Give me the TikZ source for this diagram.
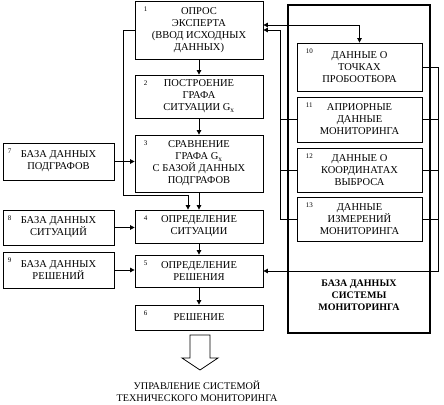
\documentclass[tikz,border=0pt]{standalone}
\usepackage{fontspec}
\setmainfont{Liberation Serif}
\usetikzlibrary{arrows.meta}

\begin{document}
\begin{tikzpicture}[x=1pt,y=-1pt,
        blk/.style={draw,line width=0.8pt,align=center,inner sep=0pt,
            font=\fontsize{10.5}{12}\selectfont},
        num/.style={anchor=north west,inner sep=0pt,xshift=9pt,yshift=-6pt,
            font=\fontsize{7}{7}\selectfont},
        ln/.style={line width=0.8pt},
        arr/.style={ln,-{Triangle[length=4.5pt,width=4.5pt]}},
        arrs/.style={ln,{Triangle[length=4.5pt,width=4.5pt]}-{Triangle[length=4.5pt,width=4.5pt]}}]

            \useasboundingbox (0,0) rectangle (444,404);

            % main column
            \node[blk,minimum width=128pt,minimum height=58pt,label={[num]north west:1}] (b1) at (199,30)
            {ОПРОС\\ЭКСПЕРТА\\(ВВОД ИСХОДНЫХ\\ДАННЫХ)};
            \node[blk,minimum width=128pt,minimum height=43pt,label={[num]north west:2}] (b2) at (199,96.5)
            {ПОСТРОЕНИЕ\\ГРАФА\\СИТУАЦИИ G\textsubscript{x}};
            \node[blk,minimum width=128pt,minimum height=57pt,label={[num]north west:3}] (b3) at (199,163.5)
            {СРАВНЕНИЕ\\ГРАФА G\textsubscript{x}\\С БАЗОЙ ДАННЫХ\\ПОДГРАФОВ};
            \node[blk,minimum width=128pt,minimum height=33pt,label={[num]north west:4}] (b4) at (199,226.5)
            {ОПРЕДЕЛЕНИЕ\\СИТУАЦИИ};
            \node[blk,minimum width=128pt,minimum height=32pt,label={[num]north west:5}] (b5) at (199,271)
            {ОПРЕДЕЛЕНИЕ\\РЕШЕНИЯ};
            \node[blk,minimum width=128pt,minimum height=25pt,label={[num]north west:6}] (b6) at (199,317.5)
            {РЕШЕНИЕ};

            % left databases
            \node[blk,minimum width=111pt,minimum height=37pt,label={[num,xshift=-4pt]north west:7}] (b7) at (58.5,161.5)
            {БАЗА ДАННЫХ\\ПОДГРАФОВ};
            \node[blk,minimum width=111pt,minimum height=35pt,label={[num,xshift=-4pt]north west:8}] (b8) at (58.5,227.5)
            {БАЗА ДАННЫХ\\СИТУАЦИЙ};
            \node[blk,minimum width=111pt,minimum height=36pt,label={[num,xshift=-4pt]north west:9}] (b9) at (58.5,270)
            {БАЗА ДАННЫХ\\РЕШЕНИЙ};

            % monitoring database
            \node[draw,line width=2.5pt,minimum width=142pt,minimum height=328pt] (bd) at (359,169) {};
            \node[align=center,font=\fontsize{10}{12}\selectfont\bfseries] (bdt) at (359,295)
            {БАЗА ДАННЫХ\\СИСТЕМЫ\\МОНИТОРИНГА};

            \node[blk,fill=white,minimum width=125pt,minimum height=48pt,label={[num]north west:10}] (b10) at (359.5,67)
            {ДАННЫЕ О\\ТОЧКАХ\\ПРОБООТБОРА};
            \node[blk,fill=white,minimum width=125pt,minimum height=45pt,label={[num]north west:11}] (b11) at (359.5,119.5)
            {АПРИОРНЫЕ\\ДАННЫЕ\\МОНИТОРИНГА};
            \node[blk,fill=white,minimum width=125pt,minimum height=44pt,label={[num]north west:12}] (b12) at (359.5,170)
            {ДАННЫЕ О\\КООРДИНАТАХ\\ВЫБРОСА};
            \node[blk,fill=white,minimum width=125pt,minimum height=44pt,label={[num]north west:13}] (b13) at (359.5,219)
            {ДАННЫЕ\\ИЗМЕРЕНИЙ\\МОНИТОРИНГА};

            % arrows in the main column
            \draw[arr] (b1) -- (b2);
            \draw[arr] (b2) -- (b3);
            \draw[arr] (b3) -- (b4);
            \draw[arr] (b4) -- (b5);
            \draw[arr] (b5) -- (b6);

            \draw[arr] (b7.east) -- (b7.east -| b3.west);
            \draw[arr] (b8.east) -- (b8.east -| b4.west);
            \draw[arr] (b9.east) -- (b9.east -| b5.west);

            \coordinate (lp) at (123,195);
            \draw[arr] (b1.west) -| (lp) -| ([xshift=-11pt]b4.north);

            \draw[arrs] ([yshift=5pt]b1.east) -| (b10.north);

            \coordinate (lb) at (280,219);
            \draw[arr] (b13.west) -- (lb) |- (b1.east);
            \draw[ln] (b11.west) -- (b11.west -| lb);
            \draw[ln] (b12.west) -- (b12.west -| lb);

            \coordinate (rb) at (438,271);
            \draw[arr] (b10.east) -| (rb) -- (b5.east);
            \draw[ln] (b11.east) -- (b11.east -| rb);
            \draw[ln] (b12.east) -- (b12.east -| rb);
            \draw[ln] (b13.east) -- (b13.east -| rb);

            % output
            \draw[ln] (190,335) -- (210,335) -- (210,358) -- (218,358) -- (200,370)
            -- (182,358) -- (190,358) -- cycle;
            \node[align=center,font=\fontsize{10.2}{12}\selectfont] (out) at (197,391)
            {УПРАВЛЕНИЕ СИСТЕМОЙ\\ТЕХНИЧЕСКОГО МОНИТОРИНГА};
        \end{tikzpicture}
\end{document}
